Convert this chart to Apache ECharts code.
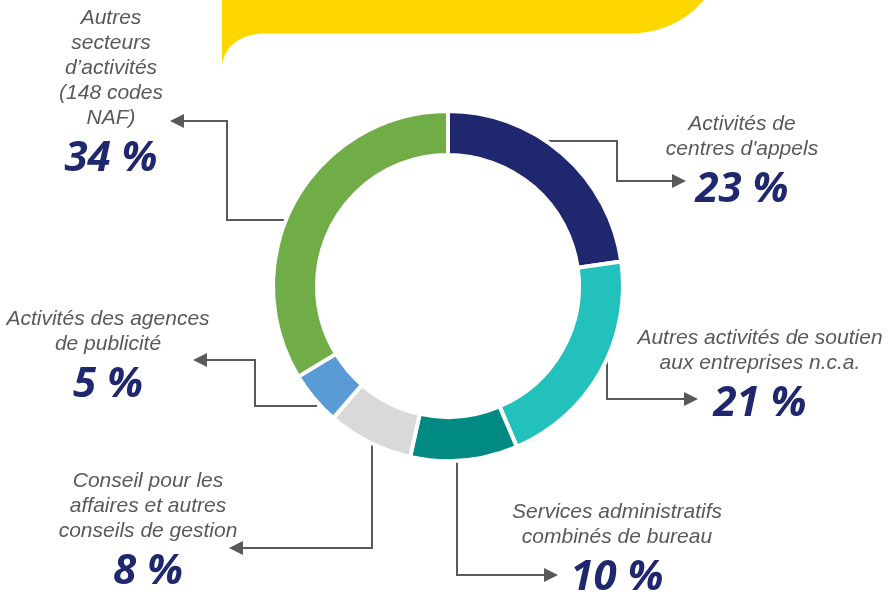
<!DOCTYPE html>
<html>
<head>
<meta charset="utf-8">
<script src="https://cdn.jsdelivr.net/npm/echarts@6/dist/echarts.min.js"></script>
<style>
  html, body { margin: 0; padding: 0; background: #fff; }
  #chart { width: 889px; height: 599px; }
</style>
</head>
<body>
<div id="chart"></div>
<script>
// répartition par secteur (en %)
const categories = [
  'Activités de\ncentres d\'appels',
  'Autres activités de soutien\naux entreprises n.c.a.',
  'Services administratifs\ncombinés de bureau',
  'Conseil pour les\naffaires et autres\nconseils de gestion',
  'Activités des agences\nde publicité',
  'Autres\nsecteurs\nd’activités\n(148 codes\nNAF)'
]
const values = [23, 21, 10, 8, 5, 34]
const colors = ['#1F276E', '#22C1BC', '#008A83', '#D9D9D9', '#5B9BD5', '#70AD47']

// label blocks (center x, top y) and elbow leader lines
const labelPos = [[742, 112], [760, 326], [617, 500], [148, 469], [108, 307], [111, 6]]
const leaders = [
  [[547, 141], [617, 141], [617, 181], [686, 181]],
  [[607, 352], [607, 399], [698, 399]],
  [[457, 457], [457, 575], [558, 575]],
  [[372, 440], [372, 548], [229, 548]],
  [[317, 406], [255, 406], [255, 360], [193, 360]],
  [[287, 220], [227, 220], [227, 121], [170, 121]]
]

const lineColor = '#595959'

function leaderGraphic(pts) {
  const a = pts[pts.length - 2]
  const b = pts[pts.length - 1]
  const len = Math.hypot(b[0] - a[0], b[1] - a[1])
  const ux = (b[0] - a[0]) / len
  const uy = (b[1] - a[1]) / len
  const L = 14, W = 7
  const base = [b[0] - ux * L, b[1] - uy * L]
  return [{
    type: 'polyline',
    z: 1,
    shape: { points: pts.slice(0, -1).concat([base]) },
    style: { stroke: lineColor, lineWidth: 2, fill: null }
  }, {
    type: 'polygon',
    z: 1,
    shape: { points: [b, [base[0] - uy * W, base[1] + ux * W], [base[0] + uy * W, base[1] - ux * W]] },
    style: { fill: lineColor }
  }]
}

// yellow banner: cubic curves sampled into a polygon
function bez(p0, p1, p2, p3, n) {
  const out = []
  for (let i = 0; i <= n; i++) {
    const t = i / n, s = 1 - t
    out.push([
      s * s * s * p0[0] + 3 * s * s * t * p1[0] + 3 * s * t * t * p2[0] + t * t * t * p3[0],
      s * s * s * p0[1] + 3 * s * s * t * p1[1] + 3 * s * t * t * p2[1] + t * t * t * p3[1]
    ])
  }
  return out
}
const banner = [[222, 0]]
  .concat(bez([704, 0], [688, 18], [665, 33.5], [628, 33.5], 20))
  .concat(bez([262, 33.5], [240, 35], [226, 45], [222, 64], 20))

const chart = echarts.init(document.getElementById('chart'))

let graphics = [{
  type: 'polygon',
  z: 0,
  shape: { points: banner },
  style: { fill: '#FFD700' }
}]
leaders.forEach(p => { graphics = graphics.concat(leaderGraphic(p)) })

chart.setOption({
  animation: false,
  graphic: graphics,
  series: [{
    type: 'pie',
    center: [448, 286],
    radius: [131, 175],
    startAngle: 90,
    clockwise: true,
    avoidLabelOverlap: false,
    silent: true,
    z: 3,
    itemStyle: {
      borderColor: '#fff',
      borderWidth: 4
    },
    label: {
      show: true,
      position: 'outside',
      formatter: p => '{name|' + p.name + '}\n{pct|' + p.value + ' %}',
      rich: {
        name: {
          fontFamily: 'Liberation Sans, Arial, sans-serif',
          fontStyle: 'italic',
          fontSize: 21,
          lineHeight: 25,
          color: '#595959',
          align: 'center'
        },
        pct: {
          fontFamily: 'Open Sans, sans-serif',
          fontStyle: 'italic',
          fontWeight: 'bold',
          fontSize: 42,
          lineHeight: 57,
          color: '#1F276E',
          align: 'center'
        }
      }
    },
    labelLine: { show: false },
    labelLayout: params => {
      const p = labelPos[params.dataIndex]
      return { x: p[0], y: p[1], align: 'center', verticalAlign: 'top' }
    },
    data: categories.map((name, i) => ({
      name: name,
      value: values[i],
      itemStyle: { color: colors[i] }
    }))
  }]
})
</script>
</body>
</html>
